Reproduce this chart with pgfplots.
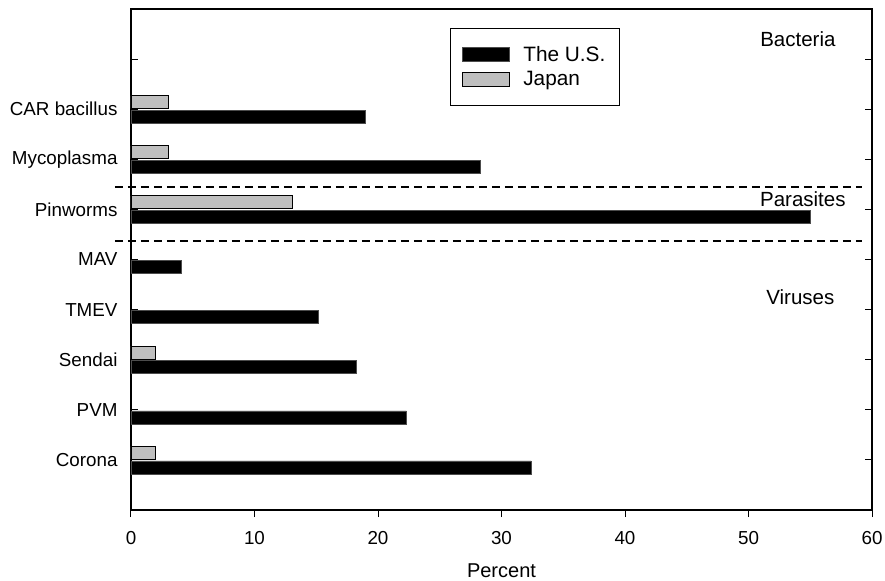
\documentclass[border=0pt]{standalone}
\usepackage{pgfplots}
\pgfplotsset{compat=1.18}
\usepackage{fontspec}
\setmainfont{Liberation Sans}
\begin{document}
\begin{tikzpicture}
\begin{axis}[
  scale only axis,
  width=741bp, height=501bp,
  xmin=0, xmax=60, ymin=0, ymax=10,
  xtick={0,10,...,60},
  ytick={1,...,9},
  yticklabels={Corona,PVM,Sendai,TMEV,MAV,Pinworms,Mycoplasma,CAR bacillus,{}},
  xtick pos=bottom,
  ytick pos=both,
  tick align=inside,
  ytick align=inside,
  major tick length=7bp,
  tick style={black, line width=1bp},
  xtick style={yshift=-7bp},
  axis line style={line width=1.2bp},
  /pgf/number format/assume math mode=true,
  ticklabel style={font=\fontsize{18.8bp}{21bp}\selectfont},
  yticklabel style={xshift=-10bp},
  xticklabel style={yshift=-18bp},
  xlabel={Percent},
  xlabel style={font=\fontsize{20bp}{23bp}\selectfont, at={(rel axis cs:0.5,0)}, anchor=center, yshift=-61bp},
  clip=false,
  legend cell align=left,
  legend style={at={(rel axis cs:0.4305,0.963)}, anchor=north west,
    draw=black, line width=1bp, inner xsep=12bp, inner ysep=16bp,
    row sep=5bp,
    font=\fontsize{20.8bp}{23bp}\selectfont},
  legend image code/.code={\draw[#1, line width=0.8bp] (0bp,-7bp) rectangle (47bp,7bp); \path (58bp,0bp);},
]
\addplot[xbar, bar width=13bp, fill=black, draw=black!70, line width=0.5bp, bar shift=-7.5bp] coordinates {
  (32.4,1) (22.3,2) (18.2,3) (15.2,4) (4.1,5) (55.0,6) (28.3,7) (19.0,8)
};
\addlegendentry{The U.S.}
\addplot[xbar, bar width=13bp, fill=black!25, draw=black, line width=0.8bp, bar shift=7bp] coordinates {
  (2.0,1) (2.0,3) (13.1,6) (3.0,7) (3.0,8)
};
\addlegendentry{Japan}
\draw[dash pattern=on 8bp off 5bp, line width=1.8bp] (axis cs:-1.3,6.45) -- (axis cs:59.2,6.45);
\draw[dash pattern=on 8bp off 5bp, line width=1.8bp] (axis cs:-1.3,5.37) -- (axis cs:59.2,5.37);
\node[font=\fontsize{20.5bp}{23bp}\selectfont] at (axis cs:54.0,9.4) {Bacteria};
\node[font=\fontsize{20.5bp}{23bp}\selectfont] at (axis cs:54.4,6.2) {Parasites};
\node[font=\fontsize{20.5bp}{23bp}\selectfont] at (axis cs:54.2,4.24) {Viruses};
\end{axis}
\pgfresetboundingbox
\useasboundingbox ([shift={(-131bp,-71bp)}]current axis.south west) rectangle ([shift={(13bp,9bp)}]current axis.north east);
\end{tikzpicture}
\end{document}
